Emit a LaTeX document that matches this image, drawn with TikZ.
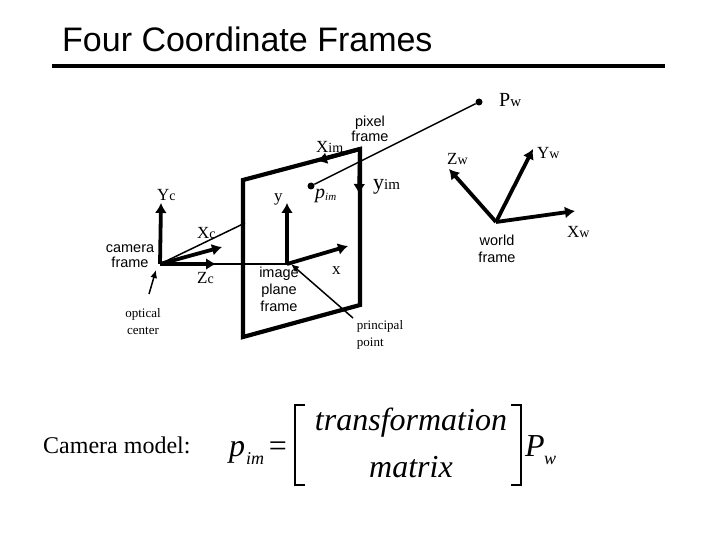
\documentclass[tikz,border=0pt]{standalone}
\usepackage{fontspec}
\setmainfont{Liberation Serif}
\newfontfamily\arialfont{Liberation Sans}
\usetikzlibrary{arrows.meta}
\tikzset{
	frameaxis/.style={line width=3.8pt,-{Latex[length=10pt,width=12pt]}},
	thinray/.style={line width=1.5pt},
	planeedge/.style={line width=4.2pt},
	pointer/.style={line width=1.5pt,-{Latex[length=8pt,width=7pt]}},
	serifbig/.style={anchor=base west,inner sep=0pt},
	serifsmall/.style={align=center,inner sep=0pt,font=\fontsize{13}{17}\selectfont},
	armtext/.style={align=center,inner sep=0pt,font=\arialfont\fontsize{14.5}{17}\selectfont},
	eqtext/.style={anchor=base,inner sep=0pt,font=\itshape\fontsize{32}{32}\selectfont},
	eqsub/.style={anchor=base west,inner sep=0pt,font=\itshape\fontsize{18}{18}\selectfont},
	dotmark/.style={circle,fill=black,inner sep=0pt,minimum size=7pt},
}
\newcommand{\axislabel}[2]{\fontsize{17}{17}\selectfont #1\fontsize{14}{14}\selectfont #2}
\begin{document}
\begin{tikzpicture}[x=1pt,y=-1pt,line cap=butt,line join=miter]
	\useasboundingbox (0,0) rectangle (720,540);
	% title
	\node[anchor=base west,inner sep=0pt,font=\arialfont\fontsize{34}{34}\selectfont] (title) at (62,52) {Four Coordinate Frames};
	\coordinate (ruleL) at (52,66);
	\coordinate (ruleR) at (665,66);
	\draw[line width=3.4pt] (ruleL) -- (ruleR);
	% image plane
	\coordinate (planeA) at (243,180);
	\coordinate (planeB) at (360,149);
	\coordinate (planeC) at (360,305);
	\coordinate (planeD) at (243,337);
	\draw[planeedge] (planeA) -- (planeB) -- (planeC) -- (planeD) -- cycle;
	% camera frame
	\coordinate (camO) at (160,264);
	\coordinate (camY) at (161,203);
	\coordinate (camX) at (222,247);
	\coordinate (camZ) at (216,264);
	\coordinate (camRay) at (245,223);
	\coordinate (imgO) at (287,264);
	\coordinate (imgY) at (287,203);
	\coordinate (imgX) at (348,246);
	\draw[thinray] (camO) -- (camRay);
	\draw[thinray] (camO) -- (imgO);
	\foreach \t in {camY,camX,camZ}{\draw[frameaxis] (camO) -- (\t);}
	\foreach \t in {imgY,imgX}{\draw[frameaxis] (imgO) -- (\t);}
	% pixel frame
	\coordinate (pixX) at (317,161);
	\coordinate (pixY) at (359,194);
	\draw[frameaxis] (planeB) -- (pixX);
	\draw[frameaxis] (planeB) -- (pixY);
	% ray to the world point
	\node[dotmark] (pim) at (311,186) {};
	\node[dotmark] (pw) at (479,102) {};
	\draw[thinray] (pim) -- (pw);
	% world frame
	\coordinate (worldO) at (496,222);
	\coordinate (worldX) at (575,211);
	\coordinate (worldY) at (533,149);
	\coordinate (worldZ) at (449,169);
	\foreach \t in {worldX,worldY,worldZ}{\draw[frameaxis] (worldO) -- (\t);}
	% pointers
	\coordinate (opticalS) at (149,294);
	\coordinate (opticalE) at (156,270);
	\coordinate (principalS) at (353,318);
	\coordinate (principalE) at (291,264);
	\draw[pointer] (opticalS) -- (opticalE);
	\draw[pointer] (principalS) -- (principalE);
	% serif axis labels
	\node[serifbig] (lPw) at (499,107) {\fontsize{20}{20}\selectfont P\fontsize{15}{15}\selectfont w};
	\node[serifbig] (lXim) at (316,153) {\axislabel{X}{im}};
	\node[serifbig] (lYim) at (373,190) {\fontsize{22}{22}\selectfont y\fontsize{15}{15}\selectfont im};
	\node[serifbig] (lYc) at (157,201) {\axislabel{Y}{c}};
	\node[serifbig] (ly) at (274,202) {\axislabel{y}{}};
	\node[serifbig] (lXc) at (197,238) {\axislabel{X}{c}};
	\node[serifbig] (lZc) at (197,283) {\axislabel{Z}{c}};
	\node[serifbig] (lx) at (332,274) {\axislabel{x}{}};
	\node[serifbig] (lZw) at (447,165) {\axislabel{Z}{w}};
	\node[serifbig] (lYw) at (537,159) {\axislabel{Y}{w}};
	\node[serifbig] (lXw) at (567,237) {\axislabel{X}{w}};
	% small labels
	\node[armtext,font=\arialfont\fontsize{14.5}{15}\selectfont] (lpixel) at (370,129) {pixel\\frame};
	\node[armtext,font=\arialfont\fontsize{14.5}{15}\selectfont] (lcam) at (130,256) {camera\\frame};
	\node[armtext] (limg) at (279,289) {image\\plane\\frame};
	\node[armtext] (lworld) at (497,249) {world\\frame};
	\node[serifsmall] (loptical) at (143,322) {optical\\center};
	\node[serifsmall,align=left] (lprincipal) at (380,335) {principal\\point};
	% pim next to the dot
	\node[anchor=base west,inner sep=0pt,font=\itshape\fontsize{20}{20}\selectfont] (lpim) at (315,199) {p\raisebox{-2pt}{\fontsize{11}{11}\selectfont im}};
	% camera model
	\node[anchor=base west,inner sep=0pt,font=\fontsize{24}{24}\selectfont] (lmodel) at (43,453) {Camera model:};
	\node[eqtext,anchor=base west] (eqp) at (229,456) {p};
	\node[eqsub] (eqim) at (246,464) {im};
	\node[anchor=base,inner sep=0pt,font=\fontsize{32}{32}\selectfont] (eqeq) at (278,456) {=};
	\node[eqtext] (eqT) at (411,430) {transformation};
	\node[eqtext] (eqM) at (411,477) {matrix};
	\node[eqtext,anchor=base west] (eqPw) at (525,456) {P};
	\node[eqsub] (eqw) at (544,464) {w};
	\coordinate (brLa) at (305,405);
	\coordinate (brLb) at (295,405);
	\coordinate (brLc) at (295,485);
	\coordinate (brLd) at (305,485);
	\coordinate (brRa) at (511,405);
	\coordinate (brRb) at (521,405);
	\coordinate (brRc) at (521,485);
	\coordinate (brRd) at (511,485);
	\draw[line width=1.8pt] (brLa) -- (brLb) -- (brLc) -- (brLd);
	\draw[line width=1.8pt] (brRa) -- (brRb) -- (brRc) -- (brRd);
\end{tikzpicture}
\end{document}
